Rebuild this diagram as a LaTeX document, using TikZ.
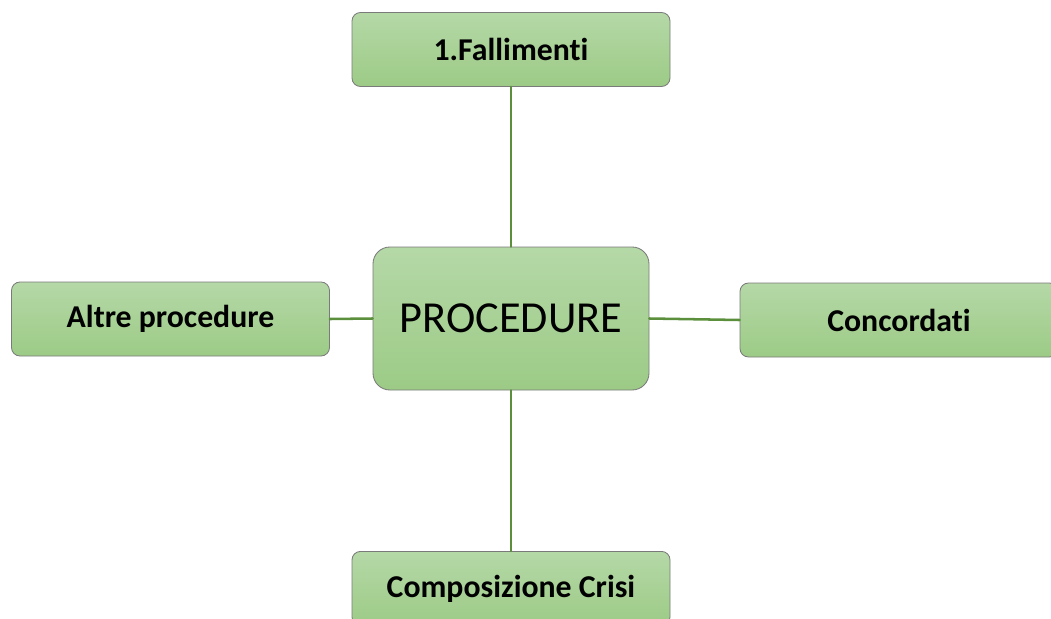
\documentclass[tikz,border=0pt]{standalone}
\usepackage{fontspec}
\setmainfont{Carlito}[RawFeature=-liga]
\usetikzlibrary{shadings}
\definecolor{boxtop}{HTML}{B5D8A7}
\definecolor{boxbot}{HTML}{9CCB86}
\definecolor{linkgreen}{HTML}{5B8F3B}
\definecolor{boxline}{HTML}{7A7A7A}
\begin{document}
\begin{tikzpicture}[x=0.025cm,y=-0.025cm,line join=round,line cap=round,
		box/.style={draw=boxline,line width=0.6pt,top color=boxtop,bottom color=boxbot,rounded corners=6pt,
			minimum width=318*0.025cm,minimum height=74*0.025cm,font=\fontsize{22.6}{26}\selectfont\bfseries,inner sep=0pt},
		link/.style={draw=linkgreen,line width=1.8pt}]
		\useasboundingbox (0,0) rectangle (1051,618);
		\begin{scope}
		\clip (0,0) rectangle (1051,618);
		\coordinate (c) at (511,318.5);
		\node[box] (fall) at (511,49.5) {1.Fallimenti};
		\node[box] (altre) at (170.5,319) {Altre procedure};
		\node[box] (conc) at (899,320) {Concordati};
		\node[box,anchor=north] (crisi) at (511,551) {\raisebox{-4pt}{Composizione Crisi}};
		\node[box,minimum width=276*0.025cm,minimum height=143*0.025cm,rounded corners=12pt,
			font=\fontsize{31.5}{36}\selectfont] (proc) at (c) {PROCEDURE};
		\draw[link] (fall.south) -- (proc.north);
		\draw[link] (proc.south) -- (crisi.north);
		\draw[link] (altre.east) -- (proc.west);
		\draw[link] (proc.east) -- (conc.west);
		\end{scope}
		\end{tikzpicture}
\end{document}
